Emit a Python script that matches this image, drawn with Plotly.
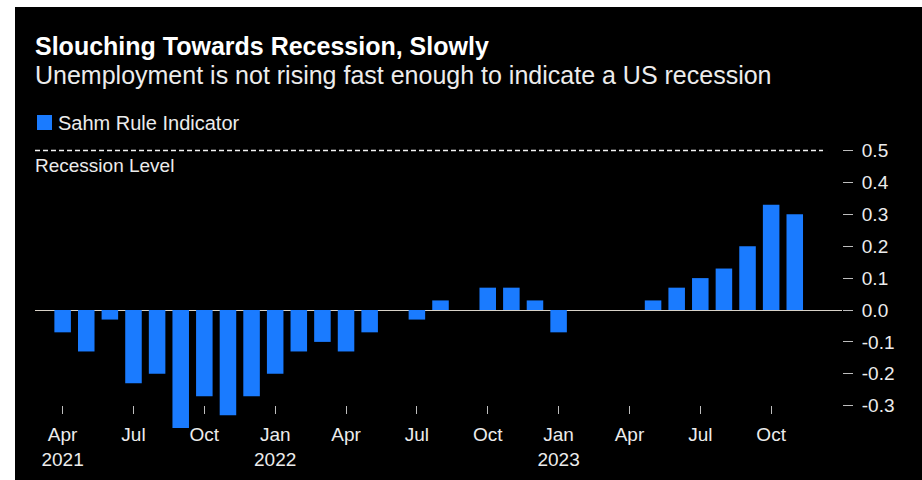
import plotly.graph_objects as go

# Sahm Rule indicator, monthly, Apr 2021 - Nov 2023
months = [
    "2021-04", "2021-05", "2021-06", "2021-07", "2021-08", "2021-09",
    "2021-10", "2021-11", "2021-12", "2022-01", "2022-02", "2022-03",
    "2022-04", "2022-05", "2022-06", "2022-07", "2022-08", "2022-09",
    "2022-10", "2022-11", "2022-12", "2023-01", "2023-02", "2023-03",
    "2023-04", "2023-05", "2023-06", "2023-07", "2023-08", "2023-09",
    "2023-10", "2023-11",
]
sahm = [
    -0.07, -0.13, -0.03, -0.23, -0.20, -0.37,
    -0.27, -0.33, -0.27, -0.20, -0.13, -0.10,
    -0.13, -0.07, 0.00, -0.03, 0.03, 0.00,
    0.07, 0.07, 0.03, -0.07, 0.00, 0.00,
    0.00, 0.03, 0.07, 0.10, 0.13, 0.20,
    0.33, 0.30,
]
recession_level = 0.5

x_tickvals = ["2021-04", "2021-07", "2021-10", "2022-01", "2022-04", "2022-07",
              "2022-10", "2023-01", "2023-04", "2023-07", "2023-10"]
x_ticktext = ["Apr<br>2021", "Jul", "Oct", "Jan<br>2022", "Apr", "Jul",
              "Oct", "Jan<br>2023", "Apr", "Jul", "Oct"]
y_tickvals = [-0.3, -0.2, -0.1, 0.0, 0.1, 0.2, 0.3, 0.4, 0.5]
y_ticktext = ["-0.3", "-0.2", "-0.1", "0.0", "0.1", "0.2", "0.3", "0.4", "0.5"]

BAR = "#1a7bff"
FONT = "Liberation Sans, Arial, sans-serif"
W, H = 922, 480
ML, MR, MT, MB = 35, 80, 140, 40
PW, PH = W - ML - MR, H - MT - MB


def px_x(px):
    return (px - ML) / PW


def px_y(py):
    return (H - MB - py) / PH


fig = go.Figure()
fig.add_trace(go.Bar(
    x=months, y=sahm, name="Sahm Rule Indicator",
    marker=dict(color=BAR, line=dict(width=0)),
    showlegend=False,
))

shapes = [
    # recession threshold
    dict(type="line", xref="paper", yref="y", x0=0, x1=px_x(823),
         y0=recession_level, y1=recession_level,
         line=dict(color="#f2f2f2", width=1.5, dash="5px,3px")),
    # legend swatch
    dict(type="rect", xref="paper", yref="paper",
         x0=px_x(37), x1=px_x(52), y0=px_y(130), y1=px_y(115),
         fillcolor=BAR, line=dict(width=0)),
    # white frame strips on the left and top edges
    dict(type="rect", xref="paper", yref="paper",
         x0=px_x(0), x1=px_x(15), y0=px_y(H), y1=px_y(0),
         fillcolor="white", line=dict(width=0)),
    dict(type="rect", xref="paper", yref="paper",
         x0=px_x(0), x1=px_x(W), y0=px_y(7), y1=px_y(0),
         fillcolor="white", line=dict(width=0)),
]

annotations = [
    dict(text="Slouching Towards Recession, Slowly", xref="paper", yref="paper",
         x=0, y=px_y(46), xanchor="left", yanchor="middle", showarrow=False,
         xshift=-2,
         font=dict(family=FONT, size=25, color="#ffffff", weight="bold")),
    dict(text="Unemployment is not rising fast enough to indicate a US recession",
         xref="paper", yref="paper", x=0, y=px_y(75), xanchor="left",
         yanchor="middle", showarrow=False, xshift=-2,
         font=dict(family=FONT, size=25, color="#ececec")),
    dict(text="Sahm Rule Indicator", xref="paper", yref="paper",
         x=px_x(58), y=px_y(122.5), xanchor="left", yanchor="middle",
         showarrow=False, xshift=-2,
         font=dict(family=FONT, size=20, color="#ececec")),
    dict(text="Recession Level", xref="paper", yref="paper",
         x=0, y=px_y(165), xanchor="left", yanchor="middle", showarrow=False,
         xshift=-2,
         font=dict(family=FONT, size=19, color="#ececec")),
]

x_lo = -1.17
x_hi = 33.0
y_lo = -(H - MB - 310) / 319
y_hi = (310 - MT) / 319

fig.update_layout(
    width=W, height=H,
    margin=dict(l=ML, r=MR, t=MT, b=MB, pad=0, autoexpand=False),
    paper_bgcolor="#000000", plot_bgcolor="#000000",
    bargap=0.3,
    shapes=shapes, annotations=annotations,
    font=dict(family=FONT, color="#ececec"),
    xaxis=dict(
        type="category", range=[x_lo, x_hi],
        anchor="free", position=px_y(405),
        tickvals=x_tickvals, ticktext=x_ticktext,
        ticks="outside", ticklen=8, tickwidth=1, tickcolor="#bdbdbd",
        tickfont=dict(family=FONT, size=19, color="#ececec"),
        ticklabelstandoff=4, automargin=False,
        showgrid=False, showline=False, zeroline=False,
    ),
    yaxis=dict(
        side="right", range=[y_lo, y_hi],
        tickvals=y_tickvals, ticktext=y_ticktext,
        ticks="outside", ticklen=10, tickwidth=1, tickcolor="#bdbdbd",
        tickfont=dict(family=FONT, size=19, color="#ececec"),
        ticklabelstandoff=5, automargin=False,
        showgrid=False, showline=False,
        zeroline=True, zerolinecolor="#d8d2c8", zerolinewidth=1.2,
    ),
)

fig.write_html("out.html")
